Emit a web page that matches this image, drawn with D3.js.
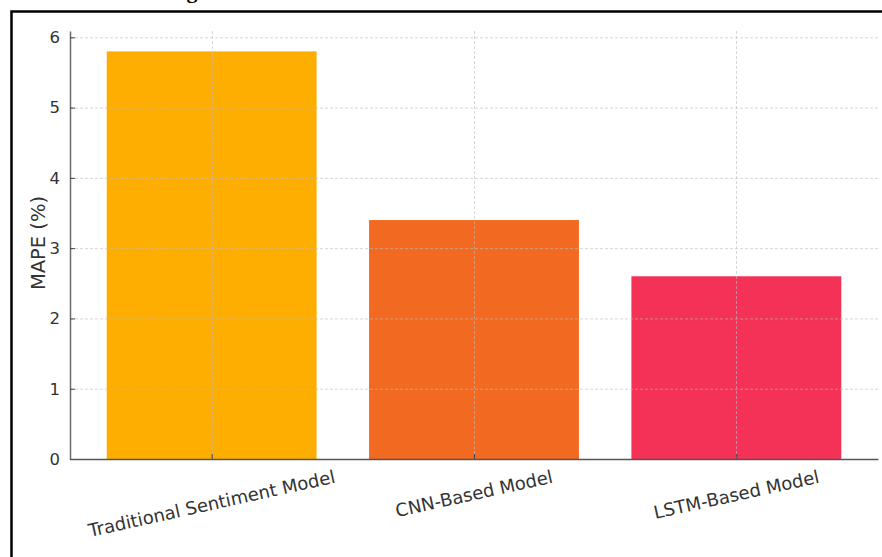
<!DOCTYPE html>
<html>
<head>
<meta charset="utf-8">
<script src="https://cdn.jsdelivr.net/npm/d3@7"></script>
<style>
  html, body { margin: 0; padding: 0; background: #fff; }
  svg { display: block; }
</style>
</head>
<body>
<svg id="chart" width="882" height="557"></svg>
<script>
// MAPE per forecasting model
const models = ["Traditional Sentiment Model", "CNN-Based Model", "LSTM-Based Model"];
const mape = [5.8, 3.4, 2.6];
const barColors = ["#FEAE00", "#F26A21", "#F43257"];
const yTicks = [0, 1, 2, 3, 4, 5, 6];
const yLabel = "MAPE (%)";
const titleText = "Figure 3. MAPE Results";

const svg = d3.select("#chart");
const W = 882, H = 557;
const plot = { left: 70, right: 878, top: 31, bottom: 459 };

// category axis: bar width 0.8 with 5% padding on each side
const x = d3.scaleLinear()
  .domain([-0.4 - 0.14, models.length - 1 + 0.4 + 0.14])
  .range([plot.left, plot.right]);
const y = d3.scaleLinear()
  .domain([0, d3.max(mape) * 1.05])
  .range([plot.bottom, plot.top]);

// figure caption (sits above the framed area)
svg.append("text")
  .attr("x", 167).attr("y", -2)
  .attr("font-family", "Liberation Serif, serif")
  .attr("font-weight", "bold")
  .attr("font-size", 22)
  .attr("fill", "#000")
  .text(titleText);

// outer frame
svg.append("rect")
  .attr("x", 11.5).attr("y", 11.5)
  .attr("width", W).attr("height", H)
  .attr("fill", "none")
  .attr("stroke", "#000")
  .attr("stroke-width", 2.5);

// bars
svg.append("g").selectAll("rect")
  .data(models)
  .join("rect")
  .attr("x", (d, i) => x(i - 0.4))
  .attr("width", (d, i) => x(i + 0.4) - x(i - 0.4))
  .attr("y", (d, i) => y(mape[i]))
  .attr("height", (d, i) => y(0) - y(mape[i]))
  .attr("fill", (d, i) => barColors[i]);

// dashed grid
const grid = svg.append("g")
  .attr("stroke", "#bdbdbd")
  .attr("stroke-opacity", 0.6)
  .attr("stroke-width", 1)
  .attr("stroke-dasharray", "3,2");
grid.selectAll("line.h")
  .data(yTicks.filter(t => t > 0))
  .join("line")
  .attr("class", "h")
  .attr("x1", plot.left).attr("x2", plot.right)
  .attr("y1", d => y(d) + 0.5).attr("y2", d => y(d) + 0.5);
grid.selectAll("line.v")
  .data(models)
  .join("line")
  .attr("class", "v")
  .attr("x1", (d, i) => Math.round(x(i)) + 0.5).attr("x2", (d, i) => Math.round(x(i)) + 0.5)
  .attr("y1", plot.top).attr("y2", plot.bottom);

// y axis
const yAxis = svg.append("g")
  .attr("transform", `translate(${plot.left},0)`)
  .call(d3.axisLeft(y).tickValues(yTicks).tickFormat(d3.format("d")).tickSizeInner(-5).tickSizeOuter(0).tickPadding(10));
yAxis.select(".domain").attr("stroke", "#6b6b6b").attr("stroke-width", 1.5);
yAxis.selectAll(".tick line").attr("stroke", "#444");
yAxis.selectAll("text")
  .attr("font-family", "DejaVu Sans, sans-serif")
  .attr("font-size", 16.5)
  .attr("fill", "#333");

// x axis baseline and inward ticks
const xAxis = svg.append("g")
  .attr("transform", `translate(0,${plot.bottom})`)
  .call(d3.axisBottom(x).tickValues(d3.range(models.length)).tickFormat("").tickSizeInner(-5).tickSizeOuter(0));
xAxis.select(".domain").attr("stroke", "#555").attr("stroke-width", 1.5);
xAxis.selectAll(".tick line").attr("stroke", "#444");

// rotated category labels, centred under each tick
const angle = 12.5;
const labelSize = 18;
const labels = svg.append("g").selectAll("text")
  .data(models)
  .join("text")
  .attr("font-family", "DejaVu Sans, sans-serif")
  .attr("font-size", labelSize)
  .attr("fill", "#333")
  .attr("text-anchor", "middle")
  .attr("dominant-baseline", "central")
  .text(d => d);
labels.each(function (d, i) {
  const w = this.getComputedTextLength();
  const h = labelSize * 1.15;
  const rad = angle * Math.PI / 180;
  const bh = w * Math.sin(rad) + h * Math.cos(rad);
  const cx = x(i), cy = plot.bottom + 7 + bh / 2;
  d3.select(this).attr("transform", `translate(${cx},${cy}) rotate(${-angle})`);
});

// y axis title
svg.append("text")
  .attr("transform", `translate(38,${(plot.top + plot.bottom) / 2 - 2}) rotate(-90)`)
  .attr("text-anchor", "middle")
  .attr("dominant-baseline", "central")
  .attr("font-family", "DejaVu Sans, sans-serif")
  .attr("font-size", 19.5)
  .attr("fill", "#333")
  .text(yLabel);
</script>
</body>
</html>
